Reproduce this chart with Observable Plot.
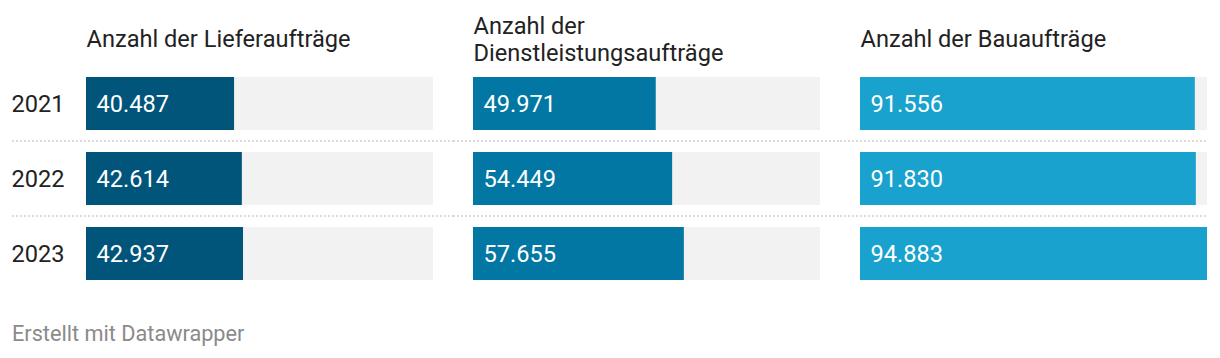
<!DOCTYPE html>
<html>
<head>
<meta charset="utf-8">
<script src="https://cdn.jsdelivr.net/npm/d3@7"></script>
<script src="https://cdn.jsdelivr.net/npm/@observablehq/plot@0.6"></script>
<style>
  html, body { margin: 0; padding: 0; background: #fff; }
  body { width: 1220px; height: 358px; overflow: hidden; font-family: Roboto, sans-serif; }
  #footer { margin: 22px 0 0 12px; font-size: 21.7px; line-height: 24px; color: #8a8a8a; }
</style>
</head>
<body>
<div id="chart"></div>
<div id="footer">Erstellt mit Datawrapper</div>
<script>
const years = ["2021", "2022", "2023"];
const panels = ["Lieferaufträge", "Dienstleistungsaufträge", "Bauaufträge"];
const panelTitles = ["Anzahl der Lieferaufträge", "Anzahl der\nDienstleistungsaufträge", "Anzahl der Bauaufträge"];
const panelColors = ["#01557a", "#0277a4", "#19a2cd"];
const lieferValues = [40487, 42614, 42937];
const dienstValues = [49971, 54449, 57655];
const bauValues = [91556, 91830, 94883];

const seriesValues = [lieferValues, dienstValues, bauValues];
const rows = [];
panels.forEach((p, i) => years.forEach((y, j) => rows.push({panel: p, year: y, value: seriesValues[i][j]})));
const maxValue = d3.max(rows, d => d.value);
const titles = panels.map((p, i) => ({panel: p, title: panelTitles[i]}));

const de = d3.formatLocale({decimal: ",", thousands: ".", grouping: [3], currency: ["", " €"]});
const fmt = de.format(",d");

// separator rules between rows, one set per panel, extended across the gaps
const sepInsets = [[-74, -20], [-20, -20], [-20, 0]];
const sepMarks = panels.map((p, i) => Plot.ruleY(
  rows.filter(d => d.panel === p && d.year !== years[0]),
  {fx: "panel", y: "year", dy: -38, insetLeft: sepInsets[i][0], insetRight: sepInsets[i][1],
   stroke: "#cfcfcf", strokeWidth: 1.3, strokeDasharray: "2,2"}
));

const FS = 23.6;
const chart = Plot.plot({
  width: 1220,
  height: 300,
  marginLeft: 86,
  marginRight: 12,
  marginTop: 76,
  marginBottom: 18,
  style: {fontFamily: "Roboto, sans-serif", fontSize: FS + "px", color: "#222", background: "#fff", overflow: "visible"},
  fx: {domain: panels, axis: null, paddingInner: 0.1033, paddingOuter: 0},
  x: {domain: [0, maxValue], axis: null},
  y: {domain: years, paddingInner: 0.289, paddingOuter: 0, label: null},
  color: {domain: panels, range: panelColors},
  marks: [
    Plot.axisY({tickSize: 0, tickPadding: 22, fontSize: FS, label: null}),
    ...sepMarks,
    Plot.barX(rows, {fx: "panel", y: "year", x1: 0, x2: () => maxValue, fill: "#f2f2f2"}),
    Plot.barX(rows, {fx: "panel", y: "year", x: "value", fill: "panel"}),
    Plot.text(rows, {fx: "panel", y: "year", text: d => fmt(d.value), frameAnchor: "left", dx: 10, textAnchor: "start", fill: "#fff", fontSize: FS}),
    Plot.text(titles, {fx: "panel", text: "title", frameAnchor: "top-left", textAnchor: "start", lineAnchor: "middle", lineHeight: 1.16, dy: -38, fill: "#222", fontSize: FS})
  ]
});
document.getElementById("chart").appendChild(chart);
</script>
</body>
</html>
